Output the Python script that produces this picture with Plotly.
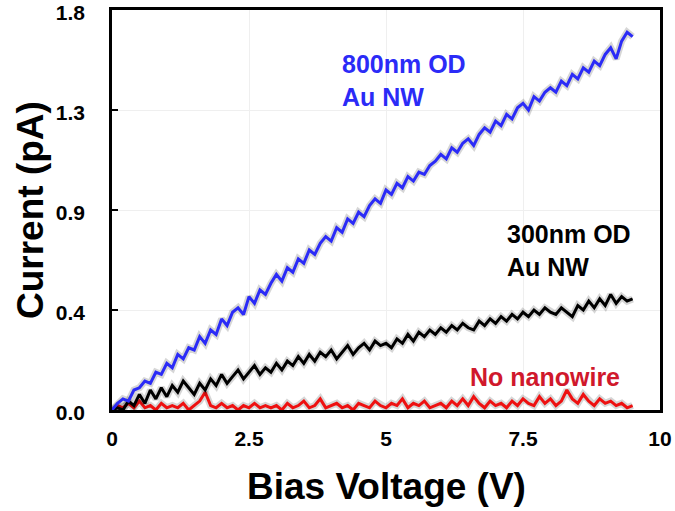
import plotly.graph_objects as go

voltage = [0.0, 0.1, 0.2, 0.3, 0.4, 0.5, 0.6, 0.7, 0.8, 0.9,
           1.0, 1.1, 1.2, 1.3, 1.4, 1.5, 1.6, 1.7, 1.8, 1.9,
           2.0, 2.1, 2.2, 2.3, 2.4, 2.5, 2.6, 2.7, 2.8, 2.9,
           3.0, 3.1, 3.2, 3.3, 3.4, 3.5, 3.6, 3.7, 3.8, 3.9,
           4.0, 4.1, 4.2, 4.3, 4.4, 4.5, 4.6, 4.7, 4.8, 4.9,
           5.0, 5.1, 5.2, 5.3, 5.4, 5.5, 5.6, 5.7, 5.8, 5.9,
           6.0, 6.1, 6.2, 6.3, 6.4, 6.5, 6.6, 6.7, 6.8, 6.9,
           7.0, 7.1, 7.2, 7.3, 7.4, 7.5, 7.6, 7.7, 7.8, 7.9,
           8.0, 8.1, 8.2, 8.3, 8.4, 8.5, 8.6, 8.7, 8.8, 8.9,
           9.0, 9.1, 9.2, 9.3, 9.4, 9.5]

current_800nm = [0.00, 0.03, 0.05, 0.04, 0.09, 0.10, 0.13, 0.12, 0.17, 0.16,
                 0.21, 0.19, 0.25, 0.23, 0.28, 0.27, 0.33, 0.30, 0.36, 0.34,
                 0.41, 0.38, 0.44, 0.46, 0.43, 0.51, 0.48, 0.54, 0.52, 0.57,
                 0.61, 0.58, 0.64, 0.62, 0.68, 0.66, 0.72, 0.70, 0.75, 0.78,
                 0.76, 0.82, 0.80, 0.86, 0.84, 0.89, 0.87, 0.92, 0.95, 0.93,
                 0.99, 0.97, 1.02, 1.00, 1.05, 1.03, 1.07, 1.06, 1.10, 1.12,
                 1.15, 1.13, 1.18, 1.16, 1.20, 1.22, 1.19, 1.24, 1.27, 1.25,
                 1.30, 1.28, 1.33, 1.31, 1.36, 1.38, 1.35, 1.41, 1.39, 1.43,
                 1.45, 1.43, 1.48, 1.46, 1.51, 1.49, 1.54, 1.52, 1.57, 1.55,
                 1.60, 1.63, 1.58, 1.66, 1.70, 1.68]

current_300nm = [0.00, 0.01, 0.00, 0.04, 0.02, 0.07, 0.03, 0.09, 0.05, 0.10,
                 0.06, 0.11, 0.08, 0.13, 0.10, 0.07, 0.12, 0.09, 0.14, 0.11,
                 0.16, 0.12, 0.15, 0.18, 0.14, 0.17, 0.20, 0.16, 0.19, 0.17,
                 0.21, 0.18, 0.22, 0.20, 0.24, 0.21, 0.25, 0.22, 0.26, 0.24,
                 0.27, 0.23, 0.26, 0.29, 0.25, 0.28, 0.30, 0.27, 0.31, 0.29,
                 0.30, 0.28, 0.32, 0.30, 0.34, 0.31, 0.35, 0.33, 0.36, 0.34,
                 0.37, 0.35, 0.38, 0.36, 0.39, 0.37, 0.36, 0.40, 0.38, 0.41,
                 0.39, 0.42, 0.40, 0.43, 0.41, 0.44, 0.42, 0.45, 0.43, 0.46,
                 0.44, 0.43, 0.46, 0.44, 0.42, 0.47, 0.45, 0.49, 0.46, 0.50,
                 0.47, 0.52, 0.48, 0.51, 0.49, 0.50]

current_none = [0.00, 0.02, 0.01, 0.03, 0.01, 0.04, 0.01, 0.02, 0.00, 0.03,
                0.01, 0.02, 0.01, 0.03, 0.00, 0.02, 0.04, 0.08, 0.02, 0.01,
                0.03, 0.01, 0.02, 0.00, 0.02, 0.01, 0.03, 0.01, 0.02, 0.01,
                0.02, 0.00, 0.03, 0.01, 0.02, 0.04, 0.01, 0.02, 0.05, 0.01,
                0.02, 0.03, 0.01, 0.02, 0.00, 0.03, 0.02, 0.01, 0.04, 0.02,
                0.01, 0.03, 0.02, 0.05, 0.01, 0.03, 0.02, 0.04, 0.01, 0.02,
                0.03, 0.01, 0.04, 0.02, 0.05, 0.02, 0.06, 0.03, 0.01, 0.04,
                0.02, 0.03, 0.01, 0.04, 0.02, 0.05, 0.03, 0.02, 0.06, 0.03,
                0.05, 0.02, 0.04, 0.09, 0.05, 0.03, 0.07, 0.04, 0.02, 0.05,
                0.03, 0.04, 0.02, 0.03, 0.01, 0.02]

y_tickvals = [0, 0.45, 0.9, 1.35, 1.8]
y_ticktext = ["0.0", "0.4", "0.9", "1.3", "1.8"]
x_tickvals = [0, 2.5, 5, 7.5, 10]
x_ticktext = ["0", "2.5", "5", "7.5", "10"]

series = [
    ("No nanowire", current_none, "#ee1111"),
    ("300nm OD Au NW", current_300nm, "#000000"),
    ("800nm OD Au NW", current_800nm, "#2b2bf7"),
]

FONT = "Liberation Sans, Arial, sans-serif"

fig = go.Figure()
for name, vals, color in series:
    fig.add_trace(go.Scatter(x=voltage, y=vals, mode="lines",
                             line=dict(color="rgba(0,0,0,0.16)", width=7),
                             hoverinfo="skip", showlegend=False))
    fig.add_trace(go.Scatter(x=voltage, y=vals, mode="lines", name=name,
                             line=dict(color=color, width=3), showlegend=False))

annots = [
    (4.16, 1.485, "800nm OD<br>Au NW", "#2b2bf7"),
    (7.17, 0.72, "300nm OD<br>Au NW", "#000000"),
    (6.5, 0.1485, "No nanowire", "#d0182c"),
]
for ax, ay, txt, col in annots:
    fig.add_annotation(x=ax, y=ay, text=txt, showarrow=False, xanchor="left",
                       yanchor="middle", align="left",
                       font=dict(family=FONT, size=25, color=col, weight="bold"))

# axis titles
fig.add_annotation(xref="paper", yref="paper", x=0.5, y=-0.1925,
                   text="Bias Voltage (V)", showarrow=False,
                   xanchor="center", yanchor="middle",
                   font=dict(family=FONT, size=37, color="black", weight="bold"))
fig.add_annotation(xref="paper", yref="paper", x=-0.1496, y=0.5,
                   text="Current (pA)", showarrow=False, textangle=-90,
                   xanchor="center", yanchor="middle",
                   font=dict(family=FONT, size=37, color="black", weight="bold"))

fig.update_layout(
    width=675, height=511,
    margin=dict(l=112, r=15, t=10, b=101),
    paper_bgcolor="white", plot_bgcolor="white",
    font=dict(family=FONT),
)
fig.update_xaxes(range=[0, 10], tickvals=x_tickvals, ticktext=x_ticktext,
                 automargin=False, ticklabeloverflow="allow",
                 showline=True, linecolor="black", linewidth=2.5, mirror=True,
                 showgrid=True, gridcolor="#efefef", gridwidth=1,
                 zeroline=False, ticks="", ticklabelstandoff=8,
                 tickfont=dict(family=FONT, size=21, color="black", weight="bold"))
fig.update_yaxes(range=[0, 1.8], tickvals=y_tickvals, ticktext=y_ticktext,
                 automargin=False, ticklabeloverflow="allow",
                 showline=True, linecolor="black", linewidth=2.5, mirror=True,
                 showgrid=True, gridcolor="#efefef", gridwidth=1,
                 zeroline=False, ticks="inside", ticklen=6, tickwidth=2, tickcolor="black",
                 ticklabelstandoff=20, ticklabelshift=3,
                 tickfont=dict(family=FONT, size=21, color="black", weight="bold"))

fig.write_html("out.html", config={"displayModeBar": False},
               post_script="document.body.style.margin='0px';document.body.style.overflow='hidden';")
